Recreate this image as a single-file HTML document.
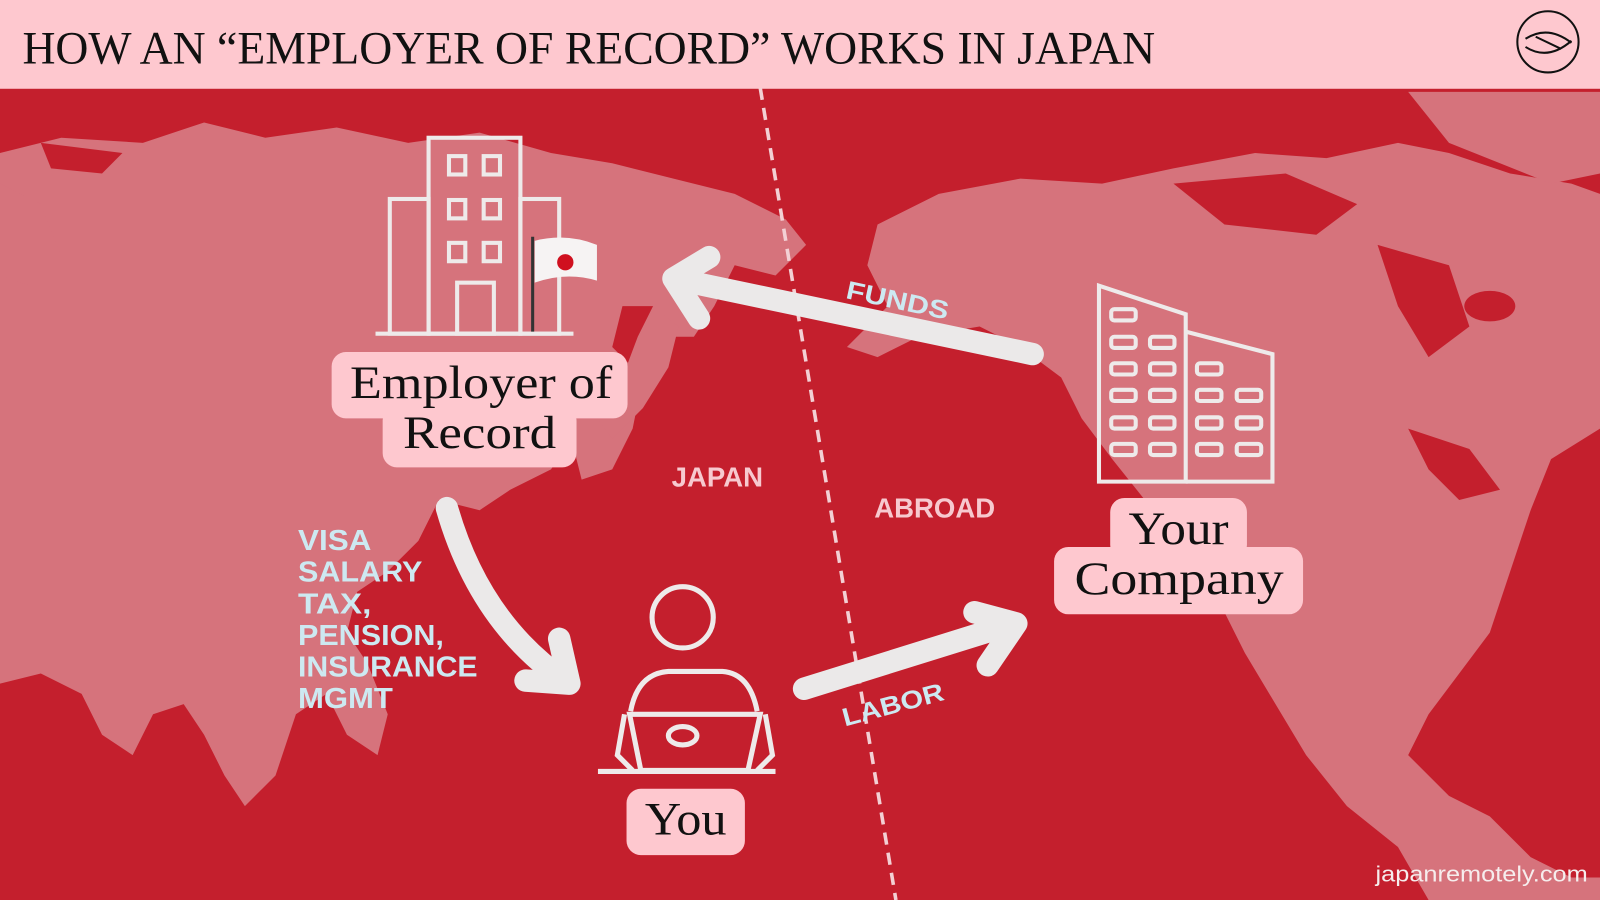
<!DOCTYPE html>
<html><head><meta charset="utf-8"><style>
html,body{margin:0;padding:0;width:1600px;height:900px;overflow:hidden;background:#c41f2d}
svg{display:block}
</style></head><body>
<svg width="1600" height="900" viewBox="0 0 1568 882" preserveAspectRatio="none" xmlns="http://www.w3.org/2000/svg">
<rect x="0" y="0" width="1568" height="882" fill="#c41f2d"/>
<g fill="#d6737c">
<path d="M0,150 L60,135 L140,140 L200,120 L260,135 L330,125 L400,140 L470,130 L540,150 L600,160 L660,175 L720,190 L770,215 L790,240 L760,270 L720,260 L700,300 L680,330 L650,330 L640,300 L610,300 L600,340 L630,370 L620,420 L600,460 L570,470 L560,430 L540,460 L500,480 L470,500 L430,490 L410,530 L380,560 L350,580 L340,620 L360,650 L380,700 L370,740 L340,720 L320,680 L290,700 L270,760 L240,790 L220,760 L200,720 L180,690 L150,700 L130,740 L100,720 L80,680 L40,660 L0,670 Z"/>
<path d="M640,300 L665,320 L655,360 L630,400 L600,430 L585,410 L610,370 L625,330 Z"/>
<path d="M860,220 L920,190 L1000,175 L1080,180 L1150,165 L1230,150 L1300,155 L1370,140 L1420,150 L1480,170 L1540,180 L1568,190 L1568,420 L1520,450 L1500,500 L1480,560 L1460,620 L1430,660 L1400,700 L1380,740 L1420,780 L1460,800 L1500,840 L1540,860 L1568,860 L1568,882 L1400,882 L1370,830 L1320,790 L1280,740 L1250,690 L1220,640 L1200,600 L1180,560 L1130,500 L1090,450 L1060,410 L1040,370 L1000,340 L960,320 L900,330 L860,350 L830,340 L870,300 L850,260 Z"/>
<path d="M1380,90 L1568,90 L1568,170 L1520,180 L1470,160 L1420,140 Z"/>
<path d="M0,180 L40,200 L60,250 L30,280 L0,270 Z"/>
</g>
<g fill="#c41f2d">
<path d="M1150,180 L1260,170 L1330,200 L1290,230 L1200,220 Z"/>
<path d="M1350,240 L1420,260 L1440,320 L1400,350 L1370,300 Z"/>
<ellipse cx="1460" cy="300" rx="25" ry="15"/>
<path d="M1380,420 L1440,440 L1470,480 L1430,490 L1400,460 Z"/>
<path d="M40,140 L120,150 L100,170 L50,165 Z"/>
</g>
<rect x="0" y="0" width="1568" height="87" fill="#fec8cf"/>
<text x="22" y="62" font-family="Liberation Serif,serif" font-size="46" fill="#111" textLength="1110" lengthAdjust="spacingAndGlyphs">HOW AN “EMPLOYER OF RECORD” WORKS IN JAPAN</text>
<circle cx="1517" cy="41" r="30" fill="none" stroke="#111" stroke-width="2"/>
<path d="M1495,38 Q1517,24 1540,42 M1495,46 Q1517,60 1540,40 M1505,36 L1530,48" fill="none" stroke="#111" stroke-width="2"/>
<line x1="745" y1="86" x2="878" y2="882" stroke="#f3d0d4" stroke-width="3.5" stroke-dasharray="12,8"/>
<g fill="none" stroke="#eeeaea" stroke-width="4">
<rect x="420" y="135" width="90" height="192"/>
<rect x="382" y="195" width="38" height="132"/>
<rect x="510" y="195" width="38" height="132"/>
<line x1="368" y1="327" x2="562" y2="327"/>
<rect x="440" y="153" width="16" height="18"/><rect x="474" y="153" width="16" height="18"/>
<rect x="440" y="196" width="16" height="18"/><rect x="474" y="196" width="16" height="18"/>
<rect x="440" y="238" width="16" height="18"/><rect x="474" y="238" width="16" height="18"/>
<rect x="448" y="277" width="36" height="50"/>
</g>
<line x1="522" y1="232" x2="522" y2="325" stroke="#333" stroke-width="3"/>
<path d="M524,236 Q555,228 585,240 L585,275 Q555,266 524,277 Z" fill="#f6f3f3"/>
<circle cx="554" cy="257" r="8" fill="#d0101f"/>
<rect x="325" y="345" width="290" height="65" rx="14" fill="#fec8cf"/>
<rect x="375" y="398" width="190" height="60" rx="14" fill="#fec8cf"/>
<text x="343" y="390" font-family="Liberation Serif,serif" font-size="46" fill="#111" textLength="257" lengthAdjust="spacingAndGlyphs">Employer of</text>
<text x="395" y="439" font-family="Liberation Serif,serif" font-size="46" fill="#111" textLength="150" lengthAdjust="spacingAndGlyphs">Record</text>
<g fill="none" stroke="#eeeaea" stroke-width="4">
<path d="M1077,280 L1162,308 L1162,472 L1077,472 Z"/>
<path d="M1162,325 L1247,347 L1247,472 L1162,472"/>
<rect x="1089" y="303" width="24" height="11" rx="3"/>
<rect x="1089" y="330" width="24" height="11" rx="3"/><rect x="1127" y="330" width="24" height="11" rx="3"/>
<rect x="1089" y="356" width="24" height="11" rx="3"/><rect x="1127" y="356" width="24" height="11" rx="3"/><rect x="1173" y="356" width="24" height="11" rx="3"/>
<rect x="1089" y="382" width="24" height="11" rx="3"/><rect x="1127" y="382" width="24" height="11" rx="3"/><rect x="1173" y="382" width="24" height="11" rx="3"/><rect x="1212" y="382" width="24" height="11" rx="3"/>
<rect x="1089" y="409" width="24" height="11" rx="3"/><rect x="1127" y="409" width="24" height="11" rx="3"/><rect x="1173" y="409" width="24" height="11" rx="3"/><rect x="1212" y="409" width="24" height="11" rx="3"/>
<rect x="1089" y="435" width="24" height="11" rx="3"/><rect x="1127" y="435" width="24" height="11" rx="3"/><rect x="1173" y="435" width="24" height="11" rx="3"/><rect x="1212" y="435" width="24" height="11" rx="3"/>
</g>
<rect x="1088" y="488" width="134" height="60" rx="14" fill="#fec8cf"/>
<rect x="1033" y="536" width="244" height="66" rx="14" fill="#fec8cf"/>
<text x="1106" y="533" font-family="Liberation Serif,serif" font-size="46" fill="#111" textLength="98" lengthAdjust="spacingAndGlyphs">Your</text>
<text x="1053" y="582" font-family="Liberation Serif,serif" font-size="46" fill="#111" textLength="205" lengthAdjust="spacingAndGlyphs">Company</text>
<g fill="none" stroke="#ebe9e9" stroke-width="22" stroke-linecap="round" stroke-linejoin="round">
<line x1="1012" y1="347" x2="665" y2="274"/>
<polyline points="695,252 660,273 685,312"/>
<path d="M438,498 Q470,610 555,668"/>
<polyline points="515,667 558,670 548,626"/>
<line x1="788" y1="675" x2="990" y2="612"/>
<polyline points="955,600 996,611 968,652"/>
</g>
<text transform="translate(828,292) rotate(12)" font-family="Liberation Sans,sans-serif" font-weight="bold" font-size="25" fill="#cde9f1" textLength="102" lengthAdjust="spacingAndGlyphs">FUNDS</text>
<text transform="translate(828,712) rotate(-15)" font-family="Liberation Sans,sans-serif" font-weight="bold" font-size="25" fill="#cde9f1" textLength="102" lengthAdjust="spacingAndGlyphs">LABOR</text>
<text x="703" y="477" text-anchor="middle" font-family="Liberation Sans,sans-serif" font-weight="bold" font-size="27" fill="#f7c9cf">JAPAN</text>
<text x="916" y="507" text-anchor="middle" font-family="Liberation Sans,sans-serif" font-weight="bold" font-size="27" fill="#f7c9cf">ABROAD</text>
<g font-family="Liberation Sans,sans-serif" font-weight="bold" font-size="28" fill="#cde9f1">
<text x="292" y="539" textLength="72" lengthAdjust="spacingAndGlyphs">VISA</text>
<text x="292" y="570" textLength="122" lengthAdjust="spacingAndGlyphs">SALARY</text>
<text x="292" y="601" textLength="72" lengthAdjust="spacingAndGlyphs">TAX,</text>
<text x="292" y="632" textLength="143" lengthAdjust="spacingAndGlyphs">PENSION,</text>
<text x="292" y="663" textLength="176" lengthAdjust="spacingAndGlyphs">INSURANCE</text>
<text x="292" y="694" textLength="93" lengthAdjust="spacingAndGlyphs">MGMT</text>
</g>
<g fill="none" stroke="#eeeaea" stroke-width="5">
<circle cx="669" cy="605" r="30"/>
<path d="M618,697 Q625,660 655,658 L708,658 Q735,660 742,697"/>
<path d="M617,700 L745,700 L733,755 L628,755 Z"/>
<path d="M612,700 L605,740 L620,755 M750,700 L757,740 L742,755"/>
<ellipse cx="669" cy="721" rx="14" ry="9"/>
<line x1="586" y1="756" x2="760" y2="756"/>
</g>
<rect x="614" y="773" width="116" height="65" rx="14" fill="#fec8cf"/>
<text x="632" y="818" font-family="Liberation Serif,serif" font-size="46" fill="#111" textLength="80" lengthAdjust="spacingAndGlyphs">You</text>
<text x="1348" y="864" font-family="Liberation Sans,sans-serif" font-size="22" fill="#f6eded" textLength="208" lengthAdjust="spacingAndGlyphs">japanremotely.com</text>
</svg>
</body></html>
